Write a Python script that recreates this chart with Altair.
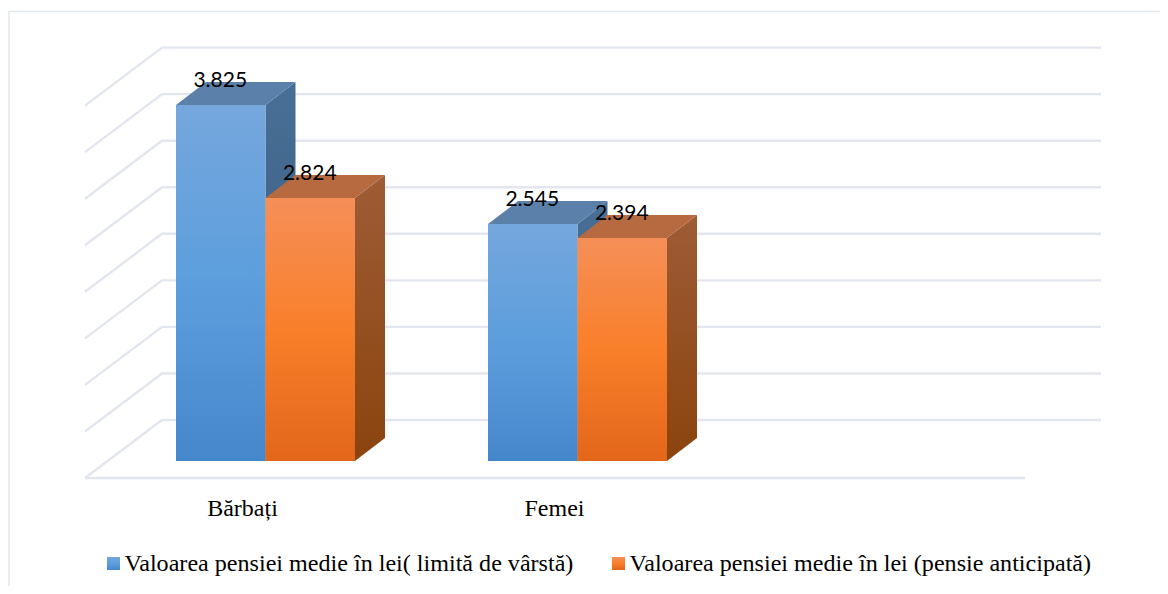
import altair as alt
import pandas as pd

categories = ["Bărbați", "Femei"]
series_names = [
    "Valoarea pensiei medie în lei( limită de vârstă)",
    "Valoarea pensiei medie în lei (pensie anticipată)",
]
men_women_limit = [3825, 2545]
men_women_early = [2824, 2394]
value_labels_limit = ["3.825", "2.545"]
value_labels_early = ["2.824", "2.394"]
grid_values = [0, 500, 1000, 1500, 2000, 2500, 3000, 3500, 4000]

W, H = 1152, 578
PX = 0.0931          # pixels per value unit
BASE = 461           # page y of value 0 on the bars' front plane


def V(py):
    return (BASE - py) / PX


xs = alt.Scale(domain=[8, 8 + W], range=[0, W], nice=False, zero=False)
ys = alt.Scale(domain=[V(8), V(8 + H)], range=[0, H], nice=False, zero=False)
X = alt.X("x:Q", scale=xs, axis=None)
X2 = alt.X2("x2:Q")
Y = alt.Y("y:Q", scale=ys, axis=None)
Y2 = alt.Y2("y2:Q")


def grad(*stops):
    return alt.LinearGradient(
        gradient="linear", x1=0, x2=0, y1=0, y2=1,
        stops=[alt.GradientStop(offset=o, color=c) for o, c in stops],
    )


FRONT = [
    grad((0, "#75a7dd"), (0.5, "#5c9edd"), (1, "#4587cb")),
    grad((0, "#f58f58"), (0.5, "#f97f2a"), (1, "#e3661a")),
]
SIDE = [
    grad((0, "#4a6f96"), (1, "#33567c")),
    grad((0, "#9e5c36"), (1, "#8b440e")),
]
TOP = ["#5b80aa", "#b76a40"]
GRID = "#e3e6ee"
DEPTH_X, DEPTH_V = 30, 23 / PX
BAR_W = 89.5
GROUP_X = [176, 488]

layers = []

# frame
frame = pd.DataFrame({"x": [9, 9, 8 + W], "y": [V(8 + H), V(11.5), V(11.5)], "o": [0, 1, 2]})
layers.append(alt.Chart(frame).mark_line(color="#e2e7ef", strokeWidth=1.5).encode(
    x=X, y=Y, order="o:Q"))

# walls and floor
wall_dv = V(420)
floor_v = V(478)
wx0, wx1, wx2 = 85, 162, 1101
rows = []
for i, g in enumerate(grid_values):
    rows.append({"g": i, "x": wx0, "y": floor_v + g, "o": 0})
    rows.append({"g": i, "x": wx1, "y": wall_dv + g, "o": 1})
    rows.append({"g": i, "x": wx2, "y": wall_dv + g, "o": 2})
layers.append(alt.Chart(pd.DataFrame(rows)).mark_line(color=GRID, strokeWidth=2.4).encode(
    x=X, y=Y, detail="g:N", order="o:Q"))
floor = pd.DataFrame({"x": [wx0, 1025], "y": [floor_v, floor_v]})
layers.append(alt.Chart(floor).mark_line(color=GRID, strokeWidth=2.4).encode(x=X, y=Y))

# 3D bars
series = [men_women_limit, men_women_early]
for gi, gx in enumerate(GROUP_X):
    for si, vals in enumerate(series):
        v = vals[gi]
        x0 = gx + si * BAR_W
        x1 = x0 + BAR_W
        side = pd.DataFrame({
            "x": [x1, x1 + DEPTH_X],
            "y": [v, v + DEPTH_V],
            "y2": [0, DEPTH_V],
        })
        top = pd.DataFrame({
            "y": [v, v + DEPTH_V],
            "x": [x0, x0 + DEPTH_X],
            "x2": [x1, x1 + DEPTH_X],
        })
        front = pd.DataFrame({"x": [x0], "x2": [x1], "y": [v], "y2": [0]})
        layers.append(alt.Chart(side).mark_area(color=SIDE[si], interpolate="linear").encode(x=X, y=Y, y2=Y2))
        layers.append(alt.Chart(top).mark_area(color=TOP[si], orient="horizontal").encode(y=Y, x=X, x2=X2))
        layers.append(alt.Chart(front).mark_bar(color=FRONT[si]).encode(x=X, x2=X2, y=Y, y2=Y2))

# value labels
lab_rows = []
for si, (vals, labs) in enumerate(zip(series, [value_labels_limit, value_labels_early])):
    for gi, gx in enumerate(GROUP_X):
        lab_rows.append({"x": gx + si * BAR_W + BAR_W / 2 - 0.5, "y": vals[gi] + DEPTH_V, "t": labs[gi]})
layers.append(alt.Chart(pd.DataFrame(lab_rows)).mark_text(
    font="Lato", fontSize=21, color="#000000", baseline="middle", align="center", dy=-1
).encode(x=X, y=Y, text="t:N"))

# category labels
cat = pd.DataFrame({
    "x": [gx + BAR_W - 23 for gx in GROUP_X],
    "y": [V(509)] * 2,
    "t": categories,
})
layers.append(alt.Chart(cat).mark_text(
    font="Liberation Serif", fontSize=24, color="#000000", baseline="middle", align="center"
).encode(x=X, y=Y, text="t:N"))

# legend
for si, (sx, name) in enumerate(zip([107, 612], series_names)):
    sw = pd.DataFrame({"x": [sx], "x2": [sx + 13], "y": [V(557)], "y2": [V(570)]})
    layers.append(alt.Chart(sw).mark_bar(color=FRONT[si]).encode(x=X, x2=X2, y=Y, y2=Y2))
    tx = pd.DataFrame({"x": [sx + 17.5], "y": [V(564)], "t": [name]})
    layers.append(alt.Chart(tx).mark_text(
        font="Liberation Serif", fontSize=24.1, color="#000000", baseline="middle", align="left"
    ).encode(x=X, y=Y, text="t:N"))

chart = alt.layer(*layers).properties(
    width=W, height=H, padding=0, autosize=alt.AutoSizeParams(type="none"),
    background="#ffffff",
).configure_view(stroke=None)

chart.save("out.html", embed_options={"renderer": "svg", "actions": False})
